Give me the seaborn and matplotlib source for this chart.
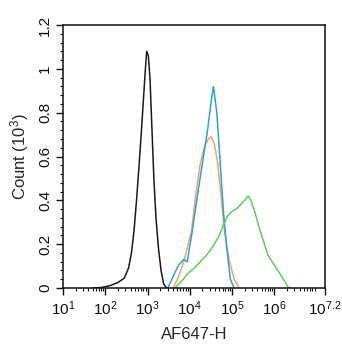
import numpy as np
import pandas as pd
import matplotlib
matplotlib.use("Agg")
import matplotlib.pyplot as plt
import seaborn as sns
from matplotlib.ticker import MultipleLocator, FixedLocator, NullFormatter

# ---- data (x given as log10 of AF647-H, y as Count in 10^3) ----
black_logx = [1.70, 1.90, 2.10, 2.30, 2.45, 2.55, 2.62, 2.68, 2.74, 2.80, 2.85,
              2.90, 2.95, 2.98, 3.02, 3.06, 3.10, 3.15, 3.20, 3.26, 3.32, 3.38, 3.45]
black_y = [0.0, 0.002, 0.01, 0.025, 0.045, 0.09, 0.16, 0.26, 0.40, 0.56, 0.70,
           0.85, 1.00, 1.08, 1.06, 0.95, 0.75, 0.50, 0.32, 0.18, 0.08, 0.02, 0.0]

blue_logx = [3.48, 3.60, 3.72, 3.85, 3.94, 4.06, 4.18, 4.30, 4.42, 4.52, 4.56,
             4.64, 4.72, 4.80, 4.87, 4.96, 5.05]
blue_y = [0.0, 0.05, 0.10, 0.13, 0.12, 0.26, 0.42, 0.57, 0.72, 0.87, 0.92,
          0.80, 0.57, 0.34, 0.19, 0.04, 0.0]

orange_logx = [3.60, 3.71, 3.86, 4.04, 4.14, 4.25, 4.34, 4.44, 4.50, 4.58, 4.66,
               4.74, 4.82, 4.94, 5.05, 5.17]
orange_y = [0.0, 0.04, 0.12, 0.26, 0.42, 0.57, 0.64, 0.68, 0.69, 0.66, 0.57,
            0.42, 0.26, 0.12, 0.04, 0.0]

green_logx = [3.65, 3.80, 3.95, 4.10, 4.25, 4.40, 4.55, 4.70, 4.80, 4.90, 5.00,
              5.10, 5.20, 5.30, 5.38, 5.45, 5.55, 5.65, 5.75, 5.85, 5.95, 6.05,
              6.15, 6.25, 6.32, 6.40]
green_y = [0.0, 0.03, 0.065, 0.09, 0.12, 0.15, 0.19, 0.24, 0.29, 0.33, 0.35,
           0.36, 0.38, 0.40, 0.42, 0.40, 0.34, 0.27, 0.21, 0.15, 0.12, 0.09,
           0.06, 0.03, 0.005, 0.0]

x_tick_exps = [1, 2, 3, 4, 5, 6, 7.2]
x_tick_labels = [r"$10^{1}$", r"$10^{2}$", r"$10^{3}$", r"$10^{4}$",
                 r"$10^{5}$", r"$10^{6}$", r"$10^{7.2}$"]
y_ticks = [0, 0.2, 0.4, 0.6, 0.8, 1.0, 1.2]
y_tick_labels = ["0", "0.2", "0.4", "0.6", "0.8", "1", "1.2"]

series = [
    ("black", black_logx, black_y, "#1a1a1a"),
    ("orange", orange_logx, orange_y, "#eea766"),
    ("blue", blue_logx, blue_y, "#2aa4d8"),
    ("green", green_logx, green_y, "#5ccf5c"),
]

sns.set_style("ticks")
plt.rcParams['font.family'] = ['Liberation Sans', 'DejaVu Sans']
plt.rcParams['mathtext.fontset'] = 'custom'
plt.rcParams['mathtext.rm'] = 'Liberation Sans'
plt.rcParams['mathtext.it'] = 'Liberation Sans'

fig = plt.figure(figsize=(3.42, 3.50), dpi=100)
ax = fig.add_axes([63/342, 62/350, (325-63)/342, (288-25)/350])

for name, lx, yy, col in series:
    df = pd.DataFrame({"x": 10 ** np.array(lx), "y": yy})
    sns.lineplot(data=df, x="x", y="y", ax=ax, color=col, linewidth=1.1,
                 sort=False, estimator=None)

ax.set_xscale("log")
ax.set_xlim(10 ** 1, 10 ** 7.2)
ax.set_ylim(0, 1.2)

ax.xaxis.set_major_locator(FixedLocator([10 ** e for e in x_tick_exps]))
ax.set_xticklabels(x_tick_labels)
minor = [m * 10 ** d for d in range(1, 8) for m in range(2, 10) if m * 10 ** d < 10 ** 7.2]
ax.xaxis.set_minor_locator(FixedLocator(minor))
ax.xaxis.set_minor_formatter(NullFormatter())

ax.set_yticks(y_ticks)
ax.set_yticklabels(y_tick_labels, rotation=90, va="center")
ax.yaxis.set_minor_locator(MultipleLocator(0.04))

ax.tick_params(axis="both", which="major", direction="out", length=5, width=1.0,
               labelsize=11, colors="#111111", pad=3)
ax.tick_params(axis="both", which="minor", direction="out", length=2.5, width=0.8,
               colors="#111111")
for s in ax.spines.values():
    s.set_visible(True)
    s.set_linewidth(1.1)
    s.set_color("#111111")

ax.set_xlabel("AF647-H", fontsize=12, labelpad=7)
ax.set_ylabel(r"Count ($10^{3}$)", fontsize=12, labelpad=5)

fig.savefig("out.png", dpi=100, facecolor="white")
